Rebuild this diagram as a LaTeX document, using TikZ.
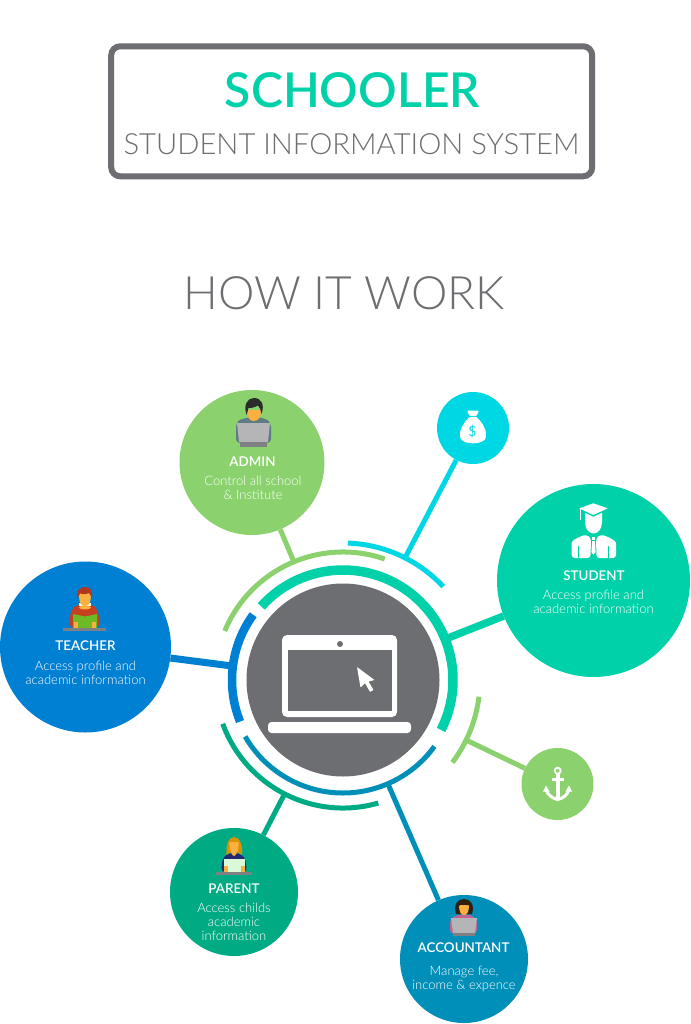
\documentclass[tikz,border=0pt]{standalone}
\usepackage{fontspec}
\setmainfont{Lato}
\newfontfamily\lightfont{Lato Light}
\newfontfamily\semifont{Lato Semibold}
\usetikzlibrary{calc}
\definecolor{cadmin}{HTML}{8BD26F}
\definecolor{cmoney}{HTML}{00D7E4}
\definecolor{cstudent}{HTML}{00D1A9}
\definecolor{cteacher}{HTML}{0080D2}
\definecolor{cparent}{HTML}{00AB84}
\definecolor{caccount}{HTML}{008FB8}
\definecolor{cgrey}{HTML}{6D6E71}
\definecolor{cskin}{HTML}{FBB040}
\definecolor{chair}{HTML}{2B2B2B}
\definecolor{cshirt}{HTML}{5F7C85}
\definecolor{claptop}{HTML}{B5B5B8}
\definecolor{cbase}{HTML}{7E8083}
\tikzset{
  x=1pt,y=-1pt,
  bub/.style={circle,inner sep=0pt,minimum size=#1*2pt},
  link/.style={line width=#1},
  ttl/.style={white,font=\semifont\fontsize{13.4}{16}\selectfont,anchor=center},
  txt/.style={white,align=center,font=\lightfont\fontsize{13}{14}\selectfont,anchor=center}
}
\newcommand{\hubarc}[5]{\draw[#1,line width=#2] ($(hub)+(#3:#5 and -#5)$) arc[start angle=-#3,end angle=-#4,radius=#5];}
\begin{document}
\begin{tikzpicture}
\useasboundingbox (0,0) rectangle (690,1024);
\fill[white] (0,0) rectangle (690,1024);
% title
\node[draw=cgrey,line width=6pt,rounded corners=9pt,minimum width=481pt,minimum height=130pt,inner sep=0pt] (box) at (351.7,111.3) {};
\node[text=cstudent,font=\semifont\fontsize{48}{50}\selectfont] (t1) at (352.5,90) {SCHOOLER};
\node[text=cgrey,font=\lightfont\fontsize{29.2}{36}\selectfont] (t2) at (351.5,144.5) {STUDENT INFORMATION SYSTEM};
\node[text=cgrey,font=\lightfont\fontsize{46}{54}\selectfont] (t3) at (344,293) {HOW IT WORK};
% hub
\coordinate (hub) at (343,680);
\coordinate (jadmin) at (294,562);
\coordinate (jmoney) at (406,556);
\coordinate (jstudent) at (448,638);
\coordinate (jteacher) at (232,666);
\coordinate (jparent) at (284,795);
\coordinate (jaccount) at (388,784);
\coordinate (janchor) at (466,740);
% bubbles
\node[bub=72.5,fill=cadmin] (admin) at (252,462.5) {};
\node[bub=36,fill=cmoney] (money) at (473,428) {};
\node[bub=96.5,fill=cstudent] (student) at (593.5,580.5) {};
\node[bub=85.5,fill=cteacher] (teacher) at (85.5,647) {};
\node[bub=64,fill=cparent] (parent) at (234,892) {};
\node[bub=64,fill=caccount] (account) at (464,959) {};
\node[bub=36,fill=cadmin] (anchorb) at (557.5,784) {};
% connectors
\draw[link=5pt,cadmin] (admin) -- (jadmin);
\draw[link=5pt,cmoney] (money) -- (jmoney);
\draw[link=7.5pt,cstudent] (student) -- (jstudent);
\draw[link=7pt,cteacher] (teacher) -- (jteacher);
\draw[link=5pt,cparent] (parent) -- (jparent);
\draw[link=5pt,caccount] (account) -- (jaccount);
\draw[link=5pt,cadmin] (anchorb) -- (janchor);
% rings
\hubarc{cstudent}{9.5pt}{138}{-27}{110}
\hubarc{cteacher}{8.5pt}{144}{202}{111}
\hubarc{caccount}{5pt}{210}{324}{113}
\hubarc{cparent}{5pt}{200}{286}{128}
\hubarc{cadmin}{5pt}{157.5}{71}{128}
\hubarc{cmoney}{5pt}{88}{43}{137}
\hubarc{cadmin}{5pt}{-7}{-37}{137}
% core
\node[bub=96.5,fill=cgrey] (core) at (hub) {};
\fill[white,rounded corners=5pt] (282,635) rectangle (397,717);
\fill[cgrey] (288,650) rectangle (392,711);
\fill[cgrey] (340,644) circle[radius=3];
\fill[white,rounded corners=3.5pt] (268,722) rectangle (411,733);
\fill[white,rounded corners=0.7pt] (357,667) -- (374.5,680) -- (368.5,681.5) -- (373.5,690) -- (370,692) -- (365,683) -- (360.5,687.5) -- cycle;
% texts
\node[ttl] (l1) at (252.5,461.3) {ADMIN};
\node[txt] (d1) at (253,488) {Control all school\\\& Institute};
\node[ttl] (l2) at (594,575.3) {STUDENT};
\node[txt] (d2) at (593.5,602) {Access profile and\\academic information};
\node[ttl] (l3) at (85.5,645.3) {TEACHER};
\node[txt] (d3) at (85.5,673) {Access profile and\\academic information};
\node[ttl] (l4) at (234,888.3) {PARENT};
\node[txt] (d4) at (234,922) {Access childs\\academic\\information};
\node[ttl] (l5) at (463.5,948) {ACCOUNTANT};
\node[txt] (d5) at (464,979) {Manage fee,\\income \& expence};
% student icon
\fill[white] (593.3,503.3) -- (607.7,508.3) -- (593.3,515) -- (579.3,508.3) -- cycle;
\fill[white] (585,512.8) -- (593.3,516.8) -- (602,512.8) -- (602,522) .. controls (602,529) and (598,533.5) .. (593.5,533.5) .. controls (589,533.5) and (585,529) .. (585,522) -- cycle;
\fill[white] (579.5,508.5) rectangle (580.5,520);
\fill[white,rounded corners=3pt] (571.7,558) -- (571.7,546) .. controls (571.7,541) and (576,538) .. (586,534.5) -- (591,538) -- (590.5,558) -- cycle;
\fill[white,rounded corners=3pt] (616,558) -- (616,546) .. controls (616,541) and (611,538) .. (601,534.5) -- (596,538) -- (596.5,558) -- cycle;
\fill[white] (592,536.5) rectangle (595,540);
\fill[white] (592.2,541) -- (594.8,541) -- (595.6,552) -- (593.5,555) -- (591.4,552) -- cycle;
\fill[cstudent] (578,546) rectangle (579.2,558);
\fill[cstudent] (607.8,546) rectangle (609,558);
% money icon
\fill[white,rounded corners=1pt] (467,410.7) -- (479,410.7) -- (476.5,416) -- (469.5,416) -- cycle;
\fill[white] (469.5,417) -- (476.5,417) .. controls (483,423) and (487,431) .. (486,437) .. controls (485,445.5) and (461,445.5) .. (460,437) .. controls (459,431) and (463,423) .. (469.5,417) -- cycle;
\node[text=cmoney,font=\fontsize{14}{14}\selectfont,inner sep=0pt] (dollar) at (472.5,431.7) {\$};
% anchor icon
\draw[white,line width=1.8pt] (557.7,770.7) circle[radius=3];
\fill[white] (556,773) rectangle (559.6,798);
\fill[white] (551.7,777.7) rectangle (564,780.5);
\draw[white,line width=3pt] (546,789) .. controls (547,795) and (553,798.5) .. (557.7,799.5) .. controls (562.5,798.5) and (568,795) .. (569,789);
\fill[white] (543,791.5) -- (546,785.5) -- (549.5,791.5) -- cycle;
\fill[white] (565.5,791.5) -- (569,785.5) -- (572,791.5) -- cycle;
% admin figure
\fill[cshirt,rounded corners=4pt] (236,443) -- (236,423) .. controls (240,419.5) and (246,418) .. (249,417) -- (258,417) .. controls (262,418) and (267,419.5) .. (271,423) -- (271,443) -- cycle;
\fill[cskin] (249.5,414) rectangle (258,420);
\fill[cskin] (247,410) .. controls (247,418) and (250,421) .. (253.7,421) .. controls (258,421) and (261,418) .. (261,410) -- cycle;
\fill[chair] (246.5,415) .. controls (243,404) and (248,398) .. (254,398) .. controls (261,398) and (265,404) .. (261.5,414) .. controls (260.5,410) and (260,407) .. (258,405.5) .. controls (254,408) and (250,408) .. (248.5,408) .. controls (248,410) and (247.5,412) .. (246.5,415) -- cycle;
\fill[claptop] (237,423) -- (270,423) -- (268,442) -- (239,442) -- cycle;
\fill[cbase] (240,442) rectangle (267,447);
% teacher figure
\fill[red!45!brown!90!black,rounded corners=6pt] (69,628) -- (71,609) -- (79,604) -- (91,604) -- (98,609) -- (100,628) -- cycle;
\fill[white!85!yellow] (79,603) rectangle (91,606);
\fill[cskin] (85,607.5) ellipse[x radius=6,y radius=2];
\fill[cskin] (79,593) .. controls (79,603) and (81,606) .. (85,606) .. controls (89,606) and (91,603) .. (91,593) -- cycle;
\fill[red!45!brown!80!black] (77.5,599) .. controls (75,591) and (80,587) .. (85,587) .. controls (90,587) and (94,591) .. (91.5,599) .. controls (91,596) and (90,594) .. (89,593) .. controls (85,595) and (82,594) .. (80,593.5) .. controls (79,595) and (78.5,597) .. (77.5,599) -- cycle;
\fill[green!35!olive!85!white] (73,614) -- (85,616.5) -- (97,614) -- (97,628) -- (73,628) -- cycle;
\fill[cskin] (74,622) rectangle (78,628);
\fill[cskin] (92,622) rectangle (96,628);
\fill[cbase] (63,628) rectangle (106,631);
% parent figure
\fill[blue!35!black!85,rounded corners=4pt] (221,872) -- (223,857) -- (230,853) -- (238,853) -- (245,857) -- (247,872) -- cycle;
\fill[orange!65!yellow!85!black] (226.5,855) .. controls (226,846) and (228,837) .. (234,837) .. controls (240,837) and (243,846) .. (242,855) .. controls (238,851) and (230,851) .. (226.5,855) -- cycle;
\fill[cskin] (229.5,842) .. controls (229,850) and (232,856) .. (234,856) .. controls (236,856) and (239,850) .. (238.5,842) -- cycle;
\fill[black!15!green!15] (223.5,859) rectangle (245,872);
\fill[cskin] (223.5,866) rectangle (227.5,872);
\fill[cskin] (241,866) rectangle (245,872);
\fill[cbase] (216,872) rectangle (252,874.5);
% accountant figure
\fill[magenta!50!gray,rounded corners=4pt] (450,934) -- (450,919) -- (458,914.5) -- (470,914.5) -- (477,919) -- (477,934) -- cycle;
\fill[black!75!brown] (456,914) .. controls (453,904) and (458,899) .. (464,899) .. controls (470,899) and (475,904) .. (472,914) -- cycle;
\fill[cskin] (459,905) .. controls (459,912) and (461,915) .. (464,915) .. controls (467,915) and (469,912) .. (469,905) -- cycle;
\fill[black!75!brown] (459,906) -- (463,902.5) -- (469,906) -- (466,903) -- (460,902) -- cycle;
\fill[claptop] (451,918) -- (477,918) -- (475,933) -- (453,933) -- cycle;
\fill[cbase] (453,933) rectangle (475,936);
\end{tikzpicture}
\end{document}
